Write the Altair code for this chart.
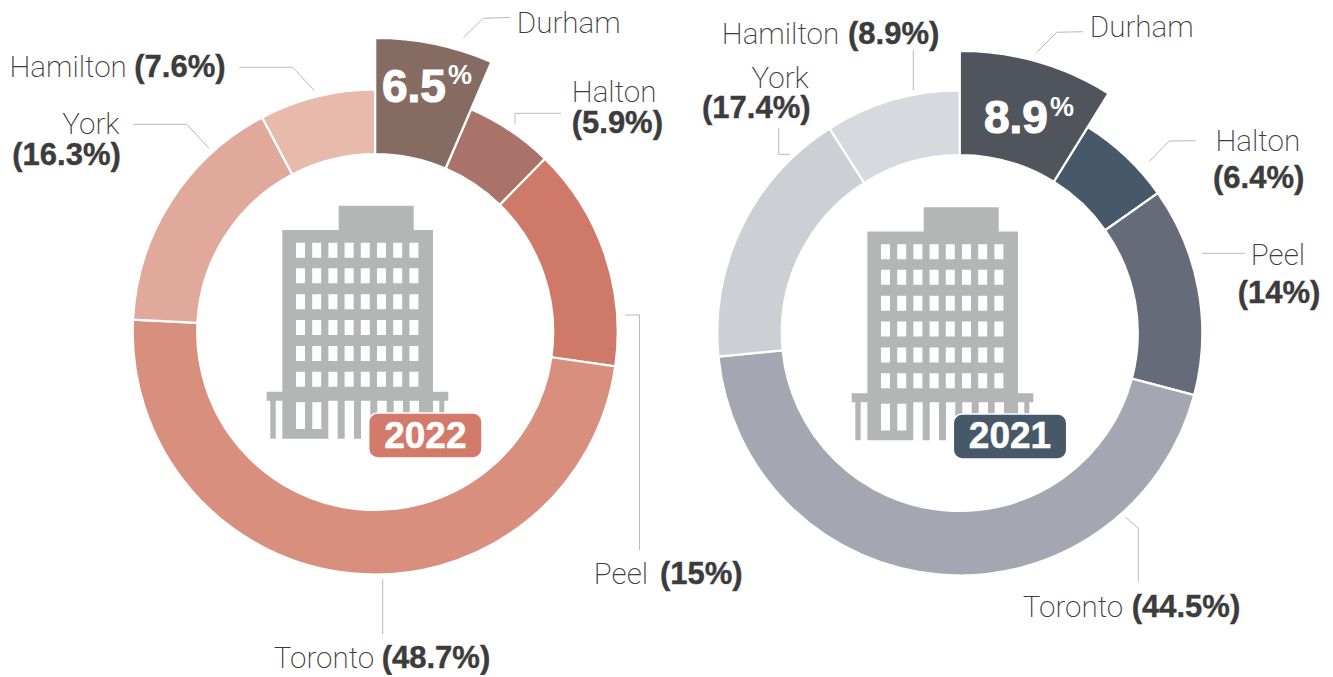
import math

import altair as alt
import pandas as pd

regions = ["Durham", "Halton", "Peel", "Toronto", "York", "Hamilton"]
share_2022 = [6.5, 5.9, 15, 48.7, 16.3, 7.6]
share_2021 = [8.9, 6.4, 14, 44.5, 17.4, 8.9]
palette_2022 = ["#866b62", "#a9736a", "#cf7969", "#d88f7e", "#e0a99c", "#e8baab"]
palette_2021 = ["#50555d", "#475869", "#656b79", "#a4a7b1", "#cdcfd5", "#d8d9df"]

SANS = "Roboto"
BOLD = "Liberation Sans"
INK = "#3c3c3c"
LEAD = "#b8b8b8"
ONE = alt.Data(values=[{"k": 1}])


def frame(values, year):
    d = pd.DataFrame({"region": regions, "value": values})
    total = d["value"].sum()
    d["end"] = d["value"].cumsum() / total * 100
    d["start"] = d["end"] - d["value"] / total * 100
    d["key"] = f"{year} " + d["region"]
    return d


color = alt.Color(
    "key:N",
    legend=None,
    scale=alt.Scale(
        domain=[f"2022 {r}" for r in regions] + [f"2021 {r}" for r in regions],
        range=palette_2022 + palette_2021,
    ),
)
theta_scale = alt.Scale(
    domain=[0, 30, 80, 100],
    range=[0, 29.85 / 100 * 2 * math.pi, 79.7 / 100 * 2 * math.pi, 2 * math.pi],
)


def arcs(d, cx, cy, r_out, r_in):
    return (
        alt.Chart(d)
        .mark_arc(outerRadius=r_out, innerRadius=r_in, stroke="white", strokeWidth=2.2)
        .encode(
            theta=alt.Theta("start:Q", scale=theta_scale),
            theta2="end:Q",
            color=color,
            x=alt.value(cx - 8),
            y=alt.value(cy - 8),
        )
    )


def donut(values, year, cx, cy, r_top):
    d = frame(values, year)
    return [
        arcs(d[d.region != "Durham"], cx, cy, 242.5, 178),
        arcs(d[d.region == "Durham"], cx, cy, r_top, 178),
    ]


def text(s, x, y, font=SANS, size=29.6, weight=200, align="left", fill=INK, thick=0):
    kw = {"stroke": fill, "strokeWidth": thick} if thick else {}
    if font == SANS and align == "left":
        x -= 1.2
    return (
        alt.Chart(ONE)
        .mark_text(font=font, fontSize=size, fontWeight=weight, align=align,
                   baseline="alphabetic", fill=fill, **kw)
        .encode(x=alt.value(x - 8), y=alt.value(y - 8), text=alt.value(s))
    )


def pct(values, name):
    return f"({values[regions.index(name)]}%)"


def bold(s, x, y):
    return text(s, x, y, font=BOLD, size=31, weight=700, thick=0.4)


def leader(*pts):
    out = []
    for (x1, y1), (x2, y2) in zip(pts[:-1], pts[1:]):
        out.append(
            alt.Chart(ONE)
            .mark_rule(color=LEAD, strokeWidth=1)
            .encode(x=alt.value(x1 - 8), x2=alt.value(x2 - 8),
                    y=alt.value(y1 - 8), y2=alt.value(y2 - 8))
        )
    return out


# Building icon, in pixels around its own anchor
def rect_cw(x0, y0, x1, y1):
    return f"M{x0} {y0}L{x1} {y0}L{x1} {y1}L{x0} {y1}Z"


def rect_ccw(x0, y0, x1, y1):
    return f"M{x0} {y0}L{x0} {y1}L{x1} {y1}L{x1} {y0}Z"


solid = [
    (338.7, 205.7, 413.7, 231), (282.3, 230, 433, 392.5), (266.7, 391.7, 448.3, 400.7),
    (270.3, 400, 275.7, 438.7), (282.3, 400, 328.3, 438.7), (337.7, 400, 344.7, 438.7),
    (354, 400, 361, 438.7), (370.3, 400, 377.3, 438.7), (386.7, 400, 393.7, 438.7),
    (403, 400, 409.7, 438.7), (419, 400, 433, 438.7), (439.3, 400, 444.3, 438.7),
]
holes = [
    (296 + 16.2 * c, y, 305 + 16.2 * c, y + 15)
    for c in range(8)
    for y in (242.7, 268.3, 294.3, 320, 346, 371.7)
] + [(296, 402.3, 305, 429), (312.3, 402.3, 321.3, 429)]
AX, AY = 357.5, 322
building = "".join(rect_cw(a - AX, b - AY, c - AX, d - AY) for a, b, c, d in solid) + "".join(
    rect_ccw(a - AX, b - AY, c - AX, d - AY) for a, b, c, d in holes
)


def icon(dx, dy):
    return (
        alt.Chart(ONE)
        .mark_point(shape=building, size=4, filled=True, fill="#b4b6b5", opacity=1, strokeWidth=0)
        .encode(x=alt.value(AX + dx - 8), y=alt.value(AY + dy - 8))
    )


def badge(x0, x1, y0, y1, fill, label, base):
    box = (
        alt.Chart(ONE)
        .mark_rect(fill=fill, cornerRadius=9, stroke="white", strokeWidth=1.5)
        .encode(x=alt.value(x0 - 8), x2=alt.value(x1 - 8), y=alt.value(y0 - 8), y2=alt.value(y1 - 8))
    )
    return [box, text(label, (x0 + x1) / 2, base, font=BOLD, size=37, weight=700, align="center",
                      fill="white", thick=0.5)]


def big(values, x, y, px, py):
    v = str(values[0])
    return [
        text(v, x, y, font=BOLD, size=46, weight=700, fill="white", thick=1.2),
        text("%", px, py, font=BOLD, size=27, weight=700, fill="white"),
    ]


layers = []
layers += donut(share_2022, 2022, 375.2, 332, 294)
layers += donut(share_2021, 2021, 959.8, 333, 282)
layers += [icon(0, 0), icon(585, 1.5)]
layers += badge(368.7, 482, 413, 458, "#d27b6a", "2022", 447.7)
layers += badge(953.3, 1066.7, 414, 459, "#475869", "2021", 448.3)
layers += big(share_2022, 382, 101.7, 448, 84)
layers += big(share_2021, 984, 133.3, 1050, 115.7)

# 2022 leaders and labels
layers += leader((463.3, 37.7), (483.3, 18.3), (510, 17.5))
layers += leader((515, 124), (515, 113.3), (561, 113.3))
layers += leader((625, 315), (639.5, 315), (639.5, 550))
layers += leader((382.7, 579.3), (382.7, 634))
layers += leader((209, 148.3), (186.7, 124.3), (133.3, 124.3))
layers += leader((314.3, 90.7), (292.7, 67.3), (239.3, 67.3))
layers += [
    text("Durham", 518, 33),
    text("Halton", 573, 101.7),
    bold(pct(share_2022, "Halton"), 571.7, 133),
    text("Peel", 595, 584.3),
    bold(pct(share_2022, "Peel"), 660, 584.3),
    text("Toronto", 275, 668),
    bold(pct(share_2022, "Toronto"), 381.7, 668),
    text("York", 119.5, 134.3, align="right"),
    bold(pct(share_2022, "York"), 12.3, 165),
    text("Hamilton", 10.7, 77.3),
    bold(pct(share_2022, "Hamilton"), 134.3, 77.3),
]

# 2021 leaders and labels
layers += leader((1036.7, 52.3), (1056.7, 32.3), (1082.7, 31.7))
layers += leader((1149.3, 161.3), (1169.3, 141), (1195.7, 140.7))
layers += leader((1202.3, 253.3), (1245, 253.3))
layers += leader((1125.7, 517.3), (1138.3, 528.3), (1138.3, 581.7))
layers += leader((790, 154.3), (778.7, 154.3), (778.7, 128))
layers += leader((913.3, 90), (913.3, 50))
layers += [
    text("Durham", 1091, 36.7),
    text("Halton", 1216.7, 151),
    bold(pct(share_2021, "Halton"), 1213, 188),
    text("Peel", 1252, 265),
    bold(pct(share_2021, "Peel"), 1237.7, 302.7),
    text("Toronto", 1024, 616.7),
    bold(pct(share_2021, "Toronto"), 1131.7, 616.7),
    text("York", 752.7, 87.7),
    bold(pct(share_2021, "York"), 702, 118),
    text("Hamilton", 723, 44.3),
    bold(pct(share_2021, "Hamilton"), 848, 44.3),
]

chart = (
    alt.layer(*layers)
    .properties(width=1317, height=667, padding=0, autosize="none", background="white")
    .configure_view(stroke=None)
)
chart.save("out.html", embed_options={"renderer": "svg", "actions": False})
